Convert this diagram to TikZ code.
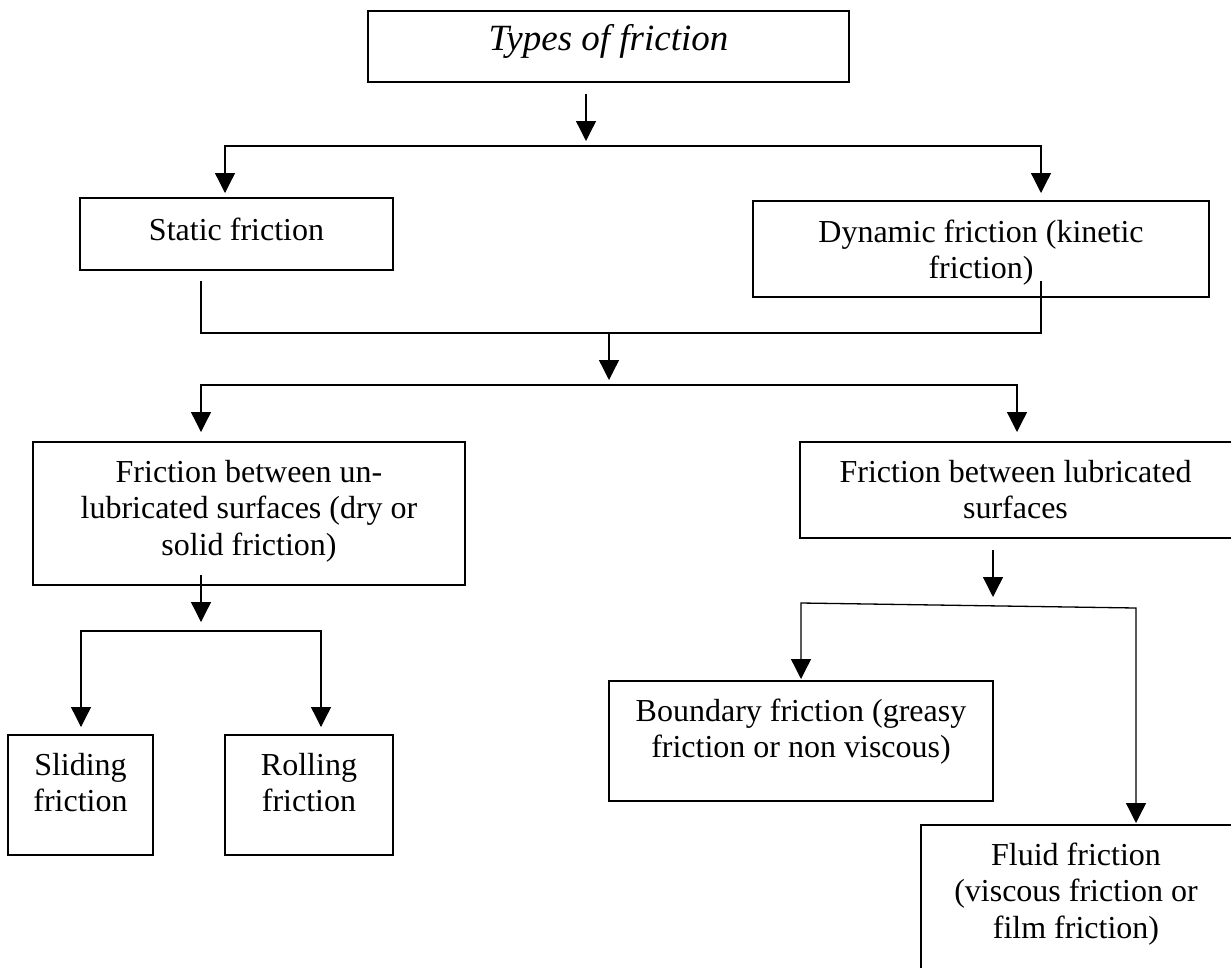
\documentclass[tikz,border=0pt]{standalone}
\usepackage{fontspec}
\setmainfont{Liberation Serif}
\usetikzlibrary{arrows.meta,fit}
\tikzset{
  box/.style={draw, line width=1.5pt, inner sep=0pt},
  txt/.style={font=\fontsize{32}{36.8}\selectfont, align=center, anchor=north, inner sep=0pt},
  ttl/.style={font=\fontsize{37}{42.5}\selectfont\itshape, align=center, anchor=north, inner sep=0pt},
  ln/.style={line width=1.3pt},
  arr/.style={line width=1.3pt, -{Triangle[width=20pt,length=20pt]}},
  arrs/.style={line width=1.3pt, {Triangle[width=20pt,length=20pt]}-{Triangle[width=20pt,length=20pt]}},
}
\begin{document}
\begin{tikzpicture}[x=1pt,y=-1pt]
\path[use as bounding box, fill=white] (0,0) rectangle (1231,967);
\clip (0,0) rectangle (1231,967);

% boxes
\node[box, fit={(368,11) (849,82)}] (title) {};
\node[box, fit={(80,198) (393,270)}] (static) {};
\node[box, fit={(753,201) (1209,297)}] (dynamic) {};
\node[box, fit={(33,442) (465,585)}] (unlub) {};
\node[box, fit={(800,442) (1236,538)}] (lub) {};
\node[box, fit={(8,735) (153,855)}] (sliding) {};
\node[box, fit={(225,735) (393,855)}] (rolling) {};
\node[box, fit={(609,681) (993,801)}] (boundary) {};
\node[box, fit={(921,825) (1236,975)}] (fluid) {};

% texts
\node[ttl] (t-title) at (608.5,20.3) {\strut Types of friction};
\node[txt] (t-static) at (236.5,214.2) {\strut Static friction};
\node[txt] (t-dynamic) at (981,216.2) {\strut Dynamic friction (kinetic\\friction)};
\node[txt] (t-unlub) at (249,456.2) {\strut Friction between un-\\lubricated surfaces (dry or\\solid friction)};
\node[txt] (t-lub) at (1015.5,456.2) {\strut Friction between lubricated\\surfaces};
\node[txt] (t-sliding) at (80.5,749.2) {\strut Sliding\\friction};
\node[txt] (t-rolling) at (309,749.2) {\strut Rolling\\friction};
\node[txt] (t-boundary) at (801,695.2) {\strut Boundary friction (greasy\\friction or non viscous)};
\node[txt] (t-fluid) at (1076,839.2) {\strut Fluid friction\\(viscous friction or\\film friction)};

% connector points
\coordinate (a1s) at (586,94);   \coordinate (a1e) at (586,141);
\coordinate (b1l) at (225,193);  \coordinate (bar1) at (600,146); \coordinate (b1r) at (1041,193);
\coordinate (j1) at (201,281);   \coordinate (jm) at (609,333);   \coordinate (j2) at (1041,281);
\coordinate (a2e) at (609,380);
\coordinate (b2l) at (201,432);  \coordinate (bar2) at (609,385); \coordinate (b2r) at (1017,432);
\coordinate (a3s) at (201,575);  \coordinate (a3e) at (201,622);
\coordinate (b3l) at (81,727);   \coordinate (bar3) at (200,631); \coordinate (b3r) at (321,727);
\coordinate (a4s) at (993,550);  \coordinate (a4e) at (993,597);
\coordinate (b4l) at (801,679);  \coordinate (s1) at (801,603);   \coordinate (s2) at (1136,608);
\coordinate (b4r) at (1136,823);

% connectors
\draw[arr] (a1s) -- (a1e);
\draw[arrs] (b1l) |- (bar1) -| (b1r);
\draw[ln] (j1) |- (jm) -| (j2);
\draw[arr] (jm) -- (a2e);
\draw[arrs] (b2l) |- (bar2) -| (b2r);
\draw[arr] (a3s) -- (a3e);
\draw[arrs] (b3l) |- (bar3) -| (b3r);
\draw[arr] (a4s) -- (a4e);
\draw[arrs] (b4l) -- (s1) -- (s2) -- (b4r);
\end{tikzpicture}
\end{document}
